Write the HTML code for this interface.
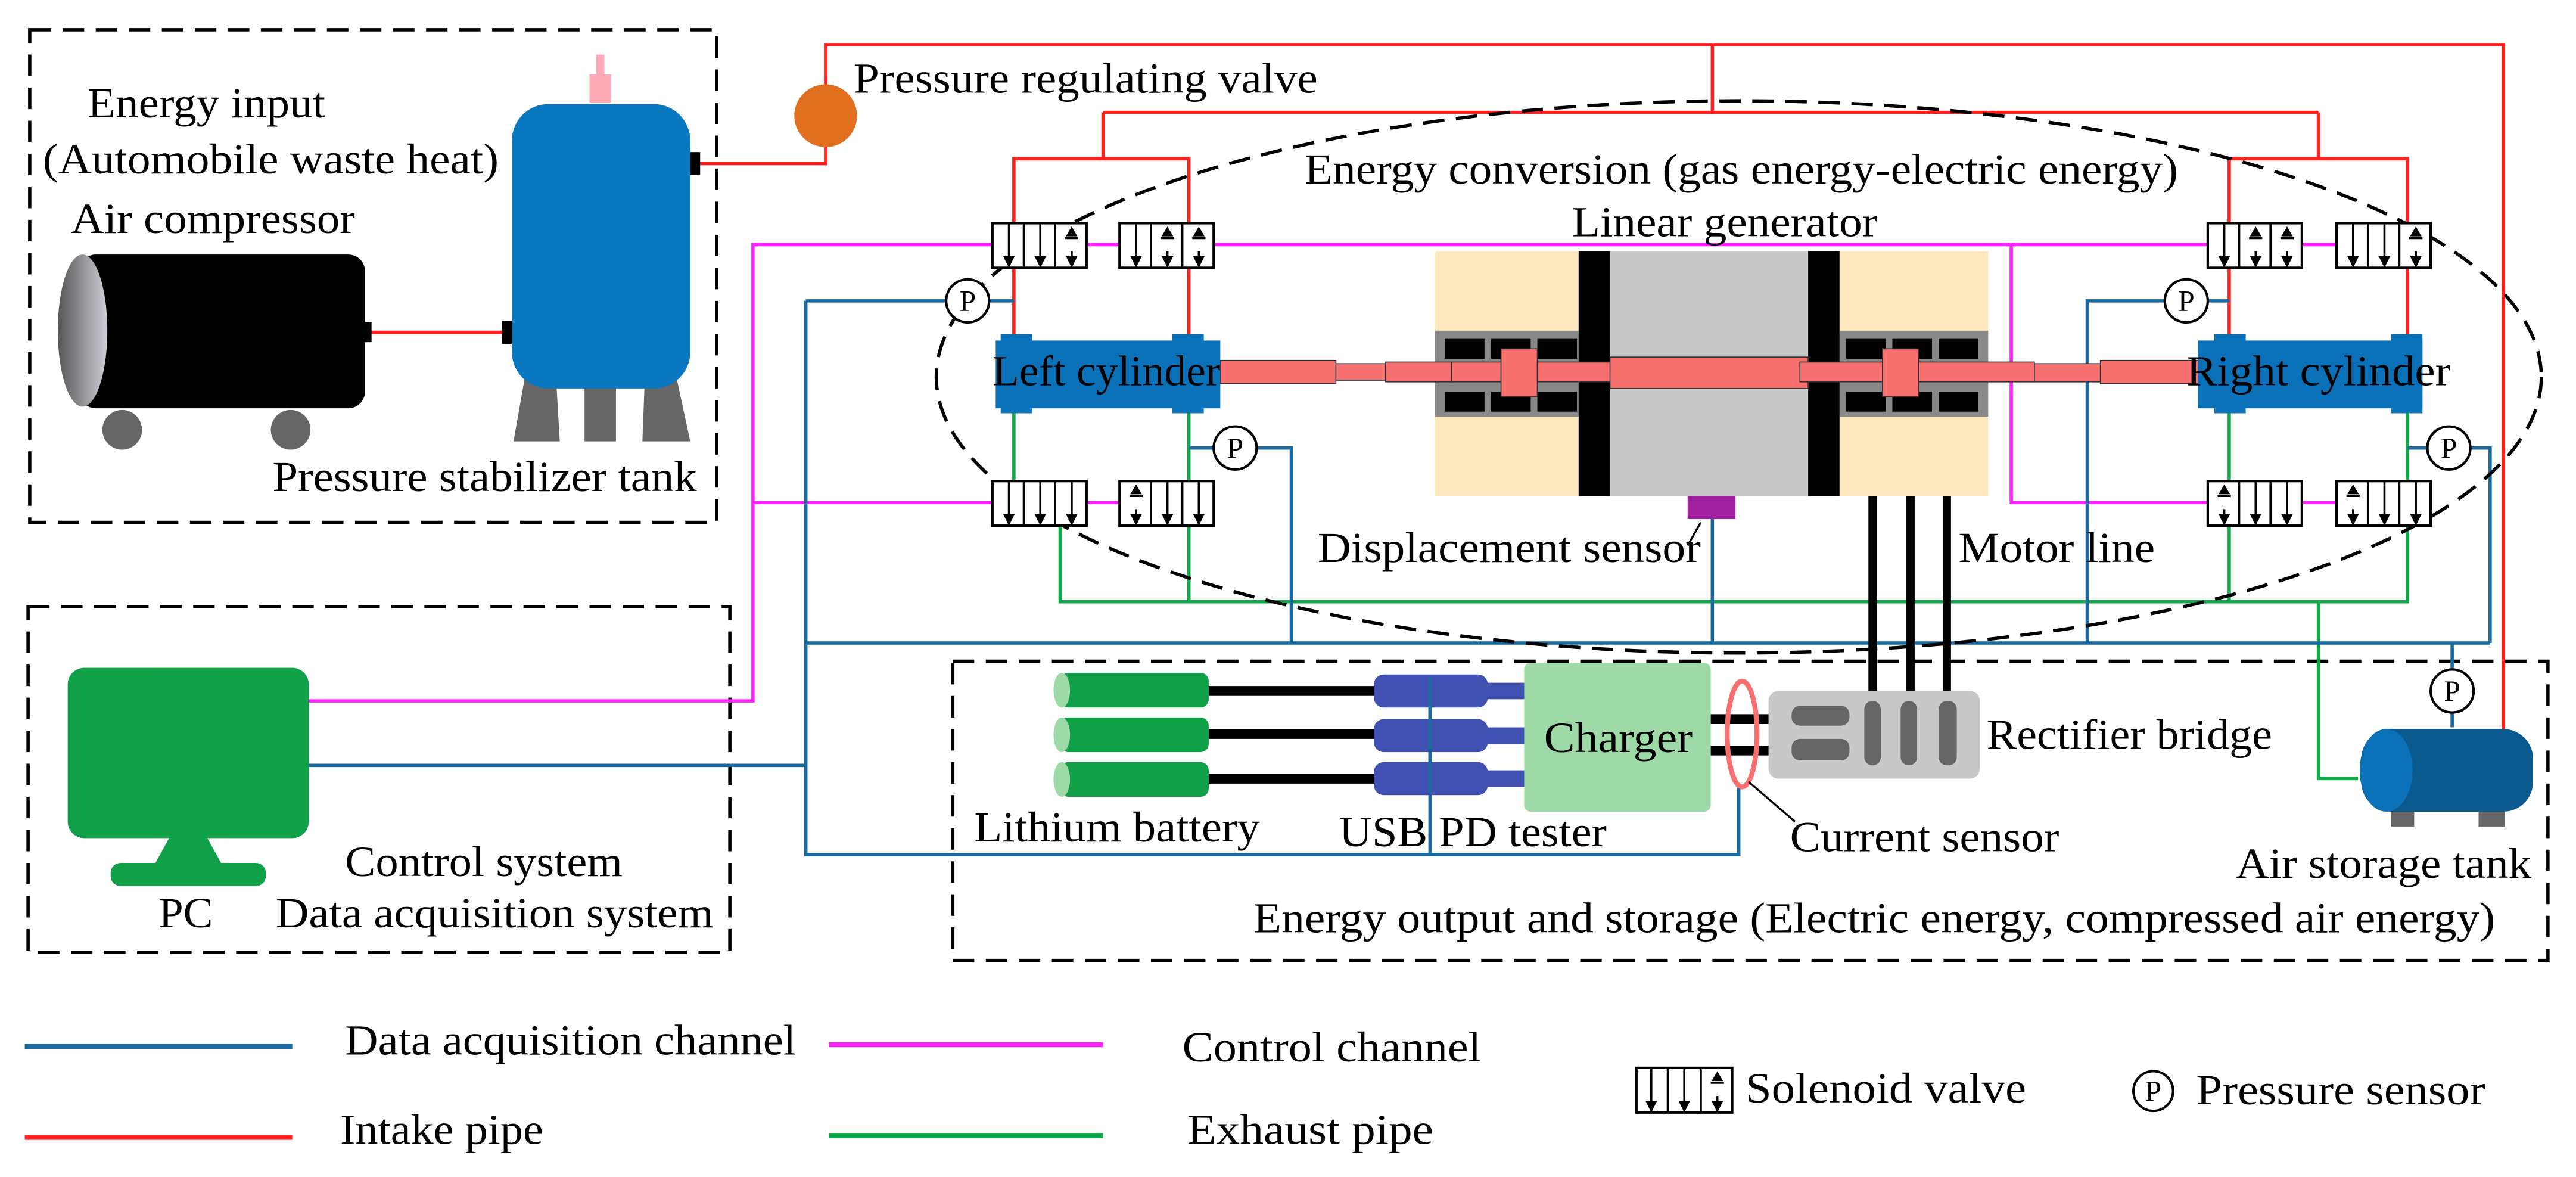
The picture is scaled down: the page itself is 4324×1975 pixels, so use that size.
<!DOCTYPE html>
<html><head><meta charset="utf-8"><style>
html,body{margin:0;padding:0;background:#fff;}
svg{display:block;}
text{font-family:"Liberation Serif",serif;fill:#000;}
</style></head><body>
<svg width="4324" height="1975" viewBox="0 0 1560 712" preserveAspectRatio="none" xmlns="http://www.w3.org/2000/svg">
<defs>
<linearGradient id="gl" x1="0" x2="1"><stop offset="0" stop-color="#555"/><stop offset="1" stop-color="#d0d0d8"/></linearGradient>
<g id="va"><!-- cell: down arrow -->
<line x1="0" y1="0" x2="0" y2="21" stroke="#000" stroke-width="1.3"/><polygon points="-3.5,20 3.5,20 0,27" fill="#000"/></g>
<g id="vb"><!-- cell: blocked ports up top/down bottom -->
<polygon points="-3.5,8 3.5,8 0,2" fill="#000"/><line x1="-4" y1="9" x2="4" y2="9" stroke="#000" stroke-width="1.3"/>
<polygon points="-3.5,20 3.5,20 0,27" fill="#000"/><line x1="0" y1="17" x2="0" y2="20" stroke="#000" stroke-width="1.3"/></g>
<g id="vbox"><rect x="0" y="0" width="57" height="27" fill="#fff" stroke="#000" stroke-width="1.5"/><line x1="19" y1="0" x2="19" y2="27" stroke="#000" stroke-width="1.3"/><line x1="38" y1="0" x2="38" y2="27" stroke="#000" stroke-width="1.3"/></g>
</defs>

<!-- dashed boxes -->
<g fill="none" stroke="#000" stroke-width="2" stroke-dasharray="13,7">
<rect x="18" y="18" width="416" height="298"/>
<rect x="17" y="367" width="425" height="209"/>
<rect x="577" y="400" width="966" height="181"/>
</g>

<!-- red intake pipes -->
<g fill="none" stroke="#ff2020" stroke-width="2">
<polyline points="420,99 500,99 500,88"/>
<polyline points="500,52 500,27 1516,27 1516,441"/>
<line x1="1037" y1="27" x2="1037" y2="68"/>
<line x1="668" y1="68" x2="1404" y2="68"/>
<polyline points="614,135 614,96 720,96 720,135"/><line x1="668" y1="68" x2="668" y2="96"/>
<polyline points="1350,135 1350,96 1458,96 1458,135"/><line x1="1404" y1="68" x2="1404" y2="96"/>
<line x1="614" y1="162" x2="614" y2="203"/><line x1="720" y1="162" x2="720" y2="203"/>
<line x1="1350" y1="162" x2="1350" y2="203"/><line x1="1458" y1="162" x2="1458" y2="203"/>
<line x1="221" y1="201" x2="308" y2="201"/>
</g>

<!-- green exhaust -->
<g fill="none" stroke="#10a84a" stroke-width="2">
<line x1="614" y1="249" x2="614" y2="291"/><line x1="720" y1="249" x2="720" y2="291"/>
<line x1="1350" y1="249" x2="1350" y2="291"/><line x1="1458" y1="249" x2="1458" y2="291"/>
<polyline points="642,318 642,364 1458,364 1458,318"/><line x1="720" y1="318" x2="720" y2="364"/>
<line x1="1350" y1="318" x2="1350" y2="364"/>
<polyline points="1404,364 1404,471 1428,471"/>
</g>

<!-- magenta control -->
<g fill="none" stroke="#ff20ff" stroke-width="2">
<polyline points="187,424 456,424 456,148 601,148"/>
<line x1="658" y1="148" x2="678" y2="148"/>
<line x1="735" y1="148" x2="1337" y2="148"/>
<line x1="1394" y1="148" x2="1415" y2="148"/>
<polyline points="456,304 601,304"/><line x1="658" y1="304" x2="678" y2="304"/>
<polyline points="1218,148 1218,304 1337,304"/><line x1="1394" y1="304" x2="1415" y2="304"/>
</g>

<!-- blue data -->
<g fill="none" stroke="#1a6aa0" stroke-width="2">
<polyline points="187,463 488,463"/>
<polyline points="488,182 488,517 1053,517 1053,476"/>
<line x1="488" y1="182" x2="573" y2="182"/><line x1="599" y1="182" x2="614" y2="182"/>
<line x1="488" y1="389" x2="1508" y2="389"/>
<line x1="720" y1="271" x2="735" y2="271"/><polyline points="761,271 782,271 782,389"/>
<line x1="1037" y1="314" x2="1037" y2="389"/>
<line x1="1350" y1="182" x2="1337" y2="182"/><polyline points="1311,182 1264,182 1264,389"/>
<line x1="1458" y1="271" x2="1470" y2="271"/><polyline points="1496,271 1508,271 1508,389"/>
<line x1="1485" y1="389" x2="1485" y2="405"/><line x1="1485" y1="431" x2="1485" y2="440"/>
<line x1="866" y1="410" x2="866" y2="517"/>
</g>

<!-- dashed ellipse -->
<ellipse cx="1053" cy="228" rx="486" ry="167" fill="none" stroke="#000" stroke-width="2" stroke-dasharray="13,7"/>

<!-- compressor -->
<rect x="48" y="154" width="173" height="93" rx="10" fill="#000"/>
<ellipse cx="50" cy="200" rx="15" ry="46" fill="url(#gl)"/>
<rect x="218" y="195" width="7" height="12" fill="#000"/>
<circle cx="74" cy="260" r="12" fill="#666"/><circle cx="176" cy="260" r="12" fill="#666"/>

<!-- stabilizer tank -->
<polygon points="320,216 336,216 339,267 311,267" fill="#666"/>
<rect x="354" y="225" width="19" height="42" fill="#666"/>
<polygon points="391,216 407,216 418,267 389,267" fill="#666"/>
<rect x="310" y="63" width="108" height="172" rx="22" fill="#0a78c0"/>
<rect x="357" y="45" width="13" height="17" fill="#ffaab8"/><rect x="361" y="33" width="5" height="14" fill="#ffaab8"/>
<rect x="304" y="194" width="6" height="14" fill="#000"/><rect x="418" y="92" width="6" height="14" fill="#000"/>
<ellipse cx="500" cy="70" rx="19" ry="19" fill="#e07020"/>

<!-- valves -->
<use href="#vbox" x="601" y="135"/><use href="#vbox" x="678" y="135"/>
<use href="#vbox" x="1337" y="135"/><use href="#vbox" x="1415" y="135"/>
<use href="#vbox" x="601" y="291"/><use href="#vbox" x="678" y="291"/>
<use href="#vbox" x="1337" y="291"/><use href="#vbox" x="1415" y="291"/>
<use href="#va" x="611" y="135"/><use href="#va" x="630" y="135"/><use href="#vb" x="649" y="135"/>
<use href="#va" x="688" y="135"/><use href="#vb" x="707" y="135"/><use href="#vb" x="726" y="135"/>
<use href="#va" x="1347" y="135"/><use href="#vb" x="1366" y="135"/><use href="#vb" x="1385" y="135"/>
<use href="#va" x="1425" y="135"/><use href="#va" x="1444" y="135"/><use href="#vb" x="1463" y="135"/>
<use href="#va" x="611" y="291"/><use href="#va" x="630" y="291"/><use href="#va" x="649" y="291"/>
<use href="#vb" x="688" y="291"/><use href="#va" x="707" y="291"/><use href="#va" x="726" y="291"/>
<use href="#vb" x="1347" y="291"/><use href="#va" x="1366" y="291"/><use href="#va" x="1385" y="291"/>
<use href="#vb" x="1425" y="291"/><use href="#va" x="1444" y="291"/><use href="#va" x="1463" y="291"/>

<!-- pressure sensors -->
<g fill="#fff" stroke="#000" stroke-width="1.5">
<circle cx="586" cy="182" r="13"/><circle cx="748" cy="271" r="13"/>
<circle cx="1324" cy="182" r="13"/><circle cx="1483" cy="271" r="13"/>
<circle cx="1485" cy="418" r="13"/><circle cx="1304" cy="660" r="12"/>
</g>
<g font-size="18" text-anchor="middle">
<text x="586" y="188">P</text><text x="748" y="277">P</text><text x="1324" y="188">P</text>
<text x="1483" y="277">P</text><text x="1485" y="424">P</text><text x="1304" y="666">P</text>
</g>

<!-- linear generator -->
<rect x="869" y="152" width="335" height="148" fill="#fde8c0"/>
<rect x="975" y="152" width="120" height="148" fill="#c8c8c8"/>
<rect x="869" y="200" width="90" height="52" fill="#888"/>
<rect x="1114" y="200" width="90" height="52" fill="#888"/>
<g fill="#000">
<rect x="875" y="205" width="24" height="12"/><rect x="903" y="205" width="24" height="12"/><rect x="931" y="205" width="24" height="12"/>
<rect x="875" y="237" width="24" height="12"/><rect x="903" y="237" width="24" height="12"/><rect x="931" y="237" width="24" height="12"/>
<rect x="1118" y="205" width="24" height="12"/><rect x="1146" y="205" width="24" height="12"/><rect x="1174" y="205" width="24" height="12"/>
<rect x="1118" y="237" width="24" height="12"/><rect x="1146" y="237" width="24" height="12"/><rect x="1174" y="237" width="24" height="12"/>
</g>
<rect x="956" y="152" width="19" height="148" fill="#000"/>
<rect x="1095" y="152" width="19" height="148" fill="#000"/>
<g fill="#f87070" stroke="#333" stroke-width="0.6">
<rect x="739" y="218" width="70" height="14"/>
<rect x="809" y="220" width="30" height="10"/>
<rect x="839" y="219" width="40" height="12"/>
<rect x="879" y="219" width="30" height="12"/>
<rect x="909" y="211" width="22" height="29"/>
<rect x="931" y="219" width="50" height="12"/>
<rect x="975" y="216" width="120" height="19"/>
<rect x="1090" y="219" width="50" height="12"/>
<rect x="1140" y="211" width="22" height="29"/>
<rect x="1162" y="219" width="70" height="12"/>
<rect x="1232" y="220" width="40" height="11"/>
<rect x="1272" y="218" width="60" height="14"/>
</g>
<rect x="1022" y="300" width="29" height="14" fill="#a020a0"/>

<!-- cylinders -->
<rect x="603" y="206" width="136" height="41" fill="#0a70b8"/>
<rect x="606" y="202" width="19" height="48" fill="#0a70b8"/><rect x="710" y="202" width="19" height="48" fill="#0a70b8"/>
<rect x="1331" y="206" width="136" height="41" fill="#0a70b8"/>
<rect x="1341" y="202" width="19" height="48" fill="#0a70b8"/><rect x="1448" y="202" width="19" height="48" fill="#0a70b8"/>

<!-- motor lines -->
<g stroke="#000" stroke-width="5"><line x1="1134" y1="300" x2="1134" y2="430"/><line x1="1157" y1="300" x2="1157" y2="430"/><line x1="1179" y1="300" x2="1179" y2="430"/></g>

<!-- PC -->
<rect x="41" y="404" width="146" height="103" rx="10" fill="#10a048"/>
<polygon points="103,506 125,506 135,524 93,524" fill="#10a048"/>
<rect x="67" y="522" width="94" height="14" rx="6" fill="#10a048"/>

<!-- batteries & testers -->
<g stroke="#000" stroke-width="6"><line x1="730" y1="418" x2="835" y2="418"/><line x1="730" y1="444" x2="835" y2="444"/><line x1="730" y1="471" x2="835" y2="471"/>
<line x1="1036" y1="435" x2="1090" y2="435"/><line x1="1036" y1="454" x2="1090" y2="454"/></g>
<g fill="#10a048"><rect x="642" y="407" width="90" height="21" rx="5"/><rect x="642" y="434" width="90" height="21" rx="5"/><rect x="642" y="461" width="90" height="21" rx="5"/></g>
<g fill="#9ed9a8"><ellipse cx="643" cy="417.5" rx="5" ry="10.5"/><ellipse cx="643" cy="444.5" rx="5" ry="10.5"/><ellipse cx="643" cy="471.5" rx="5" ry="10.5"/></g>
<g fill="#4050b0"><rect x="832" y="408" width="69" height="20" rx="6"/><rect x="832" y="435" width="69" height="20" rx="6"/><rect x="832" y="461" width="69" height="20" rx="6"/>
<rect x="898" y="413" width="26" height="10"/><rect x="898" y="440" width="26" height="10"/><rect x="898" y="466" width="26" height="10"/></g>
<line x1="866" y1="410" x2="866" y2="480" stroke="#1a6aa0" stroke-width="2"/>
<rect x="923" y="401" width="113" height="90" rx="4" fill="#9ed9a8"/>
<rect x="1071" y="418" width="128" height="53" rx="6" fill="#c8c8c8"/>
<g fill="#666"><rect x="1085" y="427" width="35" height="12" rx="5"/><rect x="1085" y="447" width="35" height="13" rx="5"/>
<rect x="1129" y="424" width="10" height="39" rx="5"/><rect x="1151" y="424" width="10" height="39" rx="5"/><rect x="1174" y="424" width="11" height="39" rx="5"/></g>
<ellipse cx="1055" cy="444" rx="9" ry="32" fill="none" stroke="#f87070" stroke-width="3"/>
<line x1="1059" y1="473" x2="1087" y2="497" stroke="#000" stroke-width="1.2"/>
<line x1="1030" y1="316" x2="1022" y2="330" stroke="#000" stroke-width="1.2"/>

<!-- air storage tank -->
<rect x="1448" y="489" width="14" height="11" fill="#666"/><rect x="1501" y="489" width="16" height="11" fill="#666"/>
<rect x="1430" y="441" width="104" height="50" rx="18" fill="#0a5a90"/>
<ellipse cx="1445" cy="466" rx="16" ry="25" fill="#0a70b8"/>

<!-- texts -->
<g font-size="26" lengthAdjust="spacingAndGlyphs">
<text x="53" y="71" textLength="144" lengthAdjust="spacingAndGlyphs">Energy input</text>
<text x="26" y="105" textLength="276" lengthAdjust="spacingAndGlyphs">(Automobile waste heat)</text>
<text x="43" y="141" textLength="172" lengthAdjust="spacingAndGlyphs">Air compressor</text>
<text x="165" y="297" textLength="257" lengthAdjust="spacingAndGlyphs">Pressure stabilizer tank</text>
<text x="517" y="56" textLength="281" lengthAdjust="spacingAndGlyphs">Pressure regulating valve</text>
<text x="790" y="111" textLength="529" lengthAdjust="spacingAndGlyphs">Energy conversion (gas energy-electric energy)</text>
<text x="952" y="143" textLength="185" lengthAdjust="spacingAndGlyphs">Linear generator</text>
<text x="601" y="233" textLength="138" lengthAdjust="spacingAndGlyphs">Left cylinder</text>
<text x="1324" y="233" textLength="160" lengthAdjust="spacingAndGlyphs">Right cylinder</text>
<text x="798" y="340" textLength="232" lengthAdjust="spacingAndGlyphs">Displacement sensor</text>
<text x="1186" y="340" textLength="119" lengthAdjust="spacingAndGlyphs">Motor line</text>
<text x="935" y="455" textLength="90" lengthAdjust="spacingAndGlyphs">Charger</text>
<text x="1203" y="453" textLength="173" lengthAdjust="spacingAndGlyphs">Rectifier bridge</text>
<text x="590" y="509" textLength="173" lengthAdjust="spacingAndGlyphs">Lithium battery</text>
<text x="811" y="512" textLength="162" lengthAdjust="spacingAndGlyphs">USB PD tester</text>
<text x="1084" y="515" textLength="163" lengthAdjust="spacingAndGlyphs">Current sensor</text>
<text x="1354" y="531" textLength="179" lengthAdjust="spacingAndGlyphs">Air storage tank</text>
<text x="209" y="530" textLength="168" lengthAdjust="spacingAndGlyphs">Control system</text>
<text x="167" y="561" textLength="265" lengthAdjust="spacingAndGlyphs">Data acquisition system</text>
<text x="96" y="561" textLength="33" lengthAdjust="spacingAndGlyphs">PC</text>
<text x="759" y="564" textLength="752" lengthAdjust="spacingAndGlyphs">Energy output and storage (Electric energy, compressed air energy)</text>
<text x="209" y="638" textLength="273" lengthAdjust="spacingAndGlyphs">Data acquisition channel</text>
<text x="716" y="642" textLength="181" lengthAdjust="spacingAndGlyphs">Control channel</text>
<text x="206" y="692" textLength="123" lengthAdjust="spacingAndGlyphs">Intake pipe</text>
<text x="719" y="692" textLength="149" lengthAdjust="spacingAndGlyphs">Exhaust pipe</text>
<text x="1057" y="667" textLength="170" lengthAdjust="spacingAndGlyphs">Solenoid valve</text>
<text x="1330" y="668" textLength="175" lengthAdjust="spacingAndGlyphs">Pressure sensor</text>
</g>

<!-- legend -->
<g stroke-width="3">
<line x1="15" y1="633" x2="177" y2="633" stroke="#1a6aa0"/>
<line x1="502" y1="632" x2="668" y2="632" stroke="#ff20ff"/>
<line x1="15" y1="688" x2="177" y2="688" stroke="#ff2020"/>
<line x1="502" y1="687" x2="668" y2="687" stroke="#10a84a"/>
</g>
<rect x="991" y="646" width="58" height="27" fill="#fff" stroke="#000" stroke-width="1.5"/>
<line x1="1010" y1="646" x2="1010" y2="673" stroke="#000" stroke-width="1.3"/>
<line x1="1030" y1="646" x2="1030" y2="673" stroke="#000" stroke-width="1.3"/>
<use href="#va" x="1000" y="646"/><use href="#va" x="1020" y="646"/><use href="#vb" x="1040" y="646"/>
</svg>
</body></html>
